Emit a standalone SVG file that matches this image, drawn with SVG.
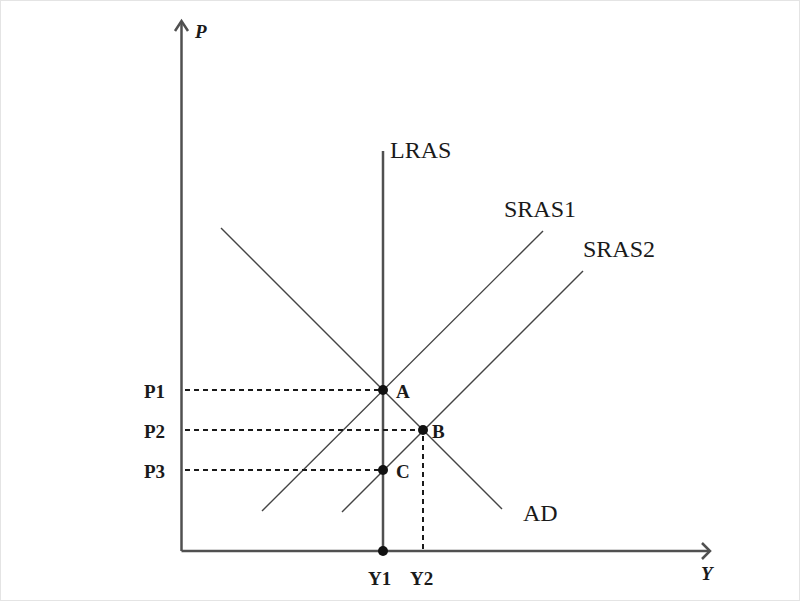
<svg xmlns="http://www.w3.org/2000/svg" width="800" height="601" viewBox="0 0 800 601">
<style>
.axis{stroke:#505050;stroke-width:2.5;fill:none}
.curve{stroke:#444;stroke-width:1.4;fill:none}
.dash{stroke:#1a1a1a;stroke-width:2;stroke-dasharray:5 4;fill:none}
.dot{fill:#111}
text{font-family:"Liberation Serif","Times New Roman",serif;fill:#1a1a1a}
.lab{font-size:24px}
.pt{font-size:19px;font-weight:bold}
</style>
<rect x="0.5" y="0.5" width="799" height="600" fill="#fff" stroke="#e4e4e4" stroke-width="1"/>
<g id="connectors">
<polyline class="axis" points="181.5,551 181.5,22"/>
<polyline class="axis" points="175,31 181.5,21 188,31" stroke-width="1.8"/>
<polyline class="axis" points="181.5,551 709,551"/>
<polyline class="axis" points="702,543 710,551 702,559" stroke-width="1.8"/>
<line id="lras" class="axis" x1="383" y1="151" x2="383" y2="551" stroke-width="2.2"/>
<line id="ad" class="curve" x1="221" y1="228" x2="502" y2="509"/>
<line id="sras1" class="curve" x1="262" y1="511" x2="543" y2="231"/>
<line id="sras2" class="curve" x1="342" y1="512" x2="583" y2="271"/>
<line class="dash" x1="185" y1="390" x2="383" y2="390"/>
<line class="dash" x1="185" y1="430" x2="423" y2="430"/>
<line class="dash" x1="185" y1="470" x2="383" y2="470"/>
<line class="dash" x1="423" y1="436" x2="423" y2="551"/>
</g>
<g id="pointA"><circle class="dot" cx="383" cy="390" r="5"/><text class="pt" x="396" y="398">A</text></g>
<g id="pointB"><circle class="dot" cx="423" cy="430" r="5"/><text class="pt" x="432" y="438">B</text></g>
<g id="pointC"><circle class="dot" cx="383" cy="470" r="5"/><text class="pt" x="396" y="478">C</text></g>
<g id="pointY1"><circle class="dot" cx="383" cy="551" r="5"/></g>
<g id="labels">
<text class="pt" x="144" y="398">P1</text>
<text class="pt" x="144" y="438">P2</text>
<text class="pt" x="144" y="478">P3</text>
<text class="pt" x="368" y="585">Y1</text>
<text class="pt" x="410" y="585">Y2</text>
<text class="pt" x="701" y="580" font-style="italic">Y</text>
<text class="pt" x="195" y="38" font-style="italic" font-size="17">P</text>
<text class="lab" x="390" y="158">LRAS</text>
<text class="lab" x="504" y="217" font-size="23">SRAS1</text>
<text class="lab" x="583" y="257" font-size="23">SRAS2</text>
<text class="lab" x="523" y="521" font-size="26">AD</text>
</g>
</svg>
